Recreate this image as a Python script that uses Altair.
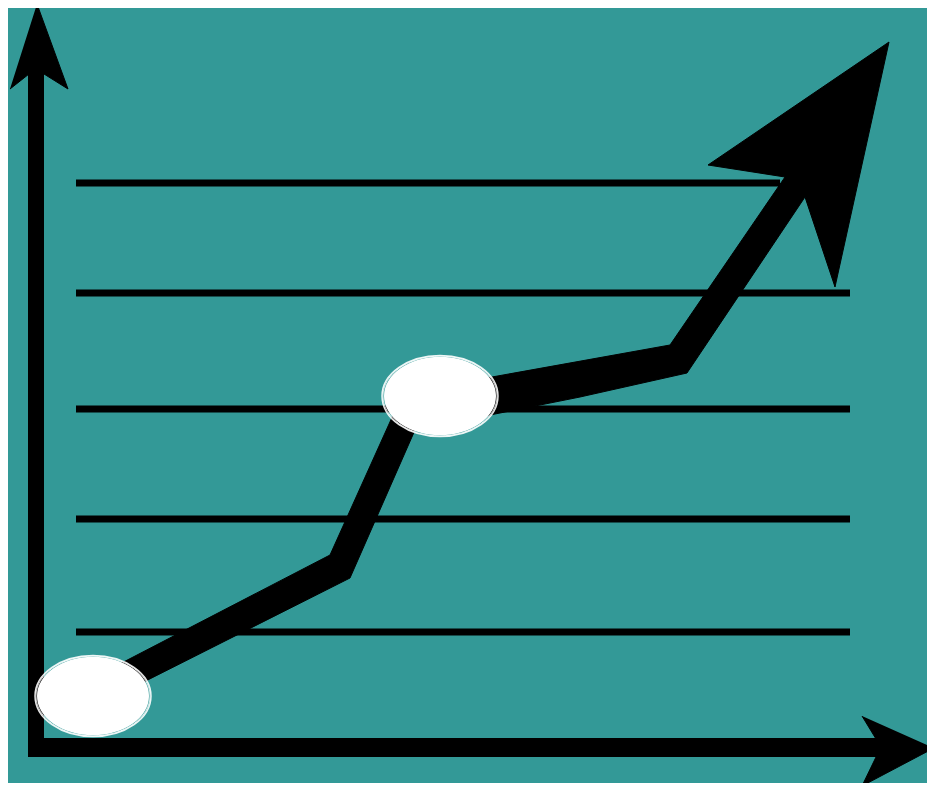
import altair as alt
import pandas as pd

BG = "#339997"

# Horizontal guide lines (y in picture units) and their horizontal extent
grid_y = [183, 293, 409, 519, 632]
grid_x0 = [76, 76, 76, 76, 76]
grid_x1 = [780, 850, 850, 850, 850]

# Axis shafts
yaxis_x = [36]
yaxis_y0 = [74]
yaxis_y1 = [757]
xaxis_y = [747.5]
xaxis_x0 = [28]
xaxis_x1 = [876]

# Axis arrowheads (polygons)
axhead_id = ["yhead"] * 5 + ["xhead"] * 5
axhead_x = [37, 68, 44, 29, 10,
            934, 862, 876, 876, 862]
axhead_y = [4, 89, 74, 74, 89,
            748, 786, 757, 739, 716]

# Trend arrow outline (band + head), traced around its edge
trend_x = [110, 330, 403, 670, 785, 708, 889, 835, 805, 687, 580, 540, 415, 350, 110]
trend_y = [669, 555, 393, 345, 177, 165, 42, 287, 197, 373, 397, 405, 430, 578, 699]

# Highlighted points (ellipses)
dot_x = [93, 440]
dot_y = [696, 396]

W, H = 919, 775
xs = alt.Scale(domain=[8, 927], nice=False, zero=False)
ys = alt.Scale(domain=[783, 8], nice=False, zero=False)

grid_df = pd.DataFrame({"y": grid_y, "x": grid_x0, "x2": grid_x1})
trend_df = pd.DataFrame({"x": trend_x, "y": trend_y, "i": range(len(trend_x))})
head_df = pd.DataFrame({"id": axhead_id, "x": axhead_x, "y": axhead_y,
                        "i": list(range(5)) * 2})
dot_df = pd.DataFrame({"x": dot_x, "y": dot_y})
yaxis_df = pd.DataFrame({"x": yaxis_x, "y": yaxis_y0, "y2": yaxis_y1})
xaxis_df = pd.DataFrame({"y": xaxis_y, "x": xaxis_x0, "x2": xaxis_x1})

X = lambda f: alt.X(f, scale=xs, axis=None)
Y = lambda f: alt.Y(f, scale=ys, axis=None)

grid = alt.Chart(grid_df).mark_rule(color="black", strokeWidth=7, strokeCap="butt").encode(
    x=X("x:Q"), x2="x2:Q", y=Y("y:Q"),
)

yaxis = alt.Chart(yaxis_df).mark_rule(color="black", strokeWidth=16, strokeCap="butt").encode(
    x=X("x:Q"), y=Y("y:Q"), y2="y2:Q",
)
xaxis = alt.Chart(xaxis_df).mark_rule(color="black", strokeWidth=19, strokeCap="butt").encode(
    x=X("x:Q"), x2="x2:Q", y=Y("y:Q"),
)

axheads = alt.Chart(head_df).mark_line(fill="black", stroke="black", strokeWidth=1,
                                       strokeJoin="miter").encode(
    x=X("x:Q"), y=Y("y:Q"), detail="id:N", order="i:Q",
)

trend = alt.Chart(trend_df).mark_line(fill="black", stroke="black", strokeWidth=1,
                                      strokeJoin="miter").encode(
    x=X("x:Q"), y=Y("y:Q"), order="i:Q",
)

ELLIPSE = "M -1 0 A 1 0.7 0 1 1 1 0 A 1 0.7 0 1 1 -1 0 Z"

dots = alt.Chart(dot_df).mark_point(shape=ELLIPSE, filled=True, fill="white", opacity=1,
                                    size=112 * 112, strokeWidth=0).encode(
    x=X("x:Q"), y=Y("y:Q"),
)
sketch1 = alt.Chart(dot_df).mark_point(shape=ELLIPSE, filled=False, stroke="white", opacity=0.9,
                                       size=116 * 116, strokeWidth=1.5, dx=3, dy=-2).encode(
    x=X("x:Q"), y=Y("y:Q"),
)
sketch2 = alt.Chart(dot_df).mark_point(shape=ELLIPSE, filled=False, stroke="white", opacity=0.8,
                                       size=114 * 114, strokeWidth=1, dx=5, dy=1).encode(
    x=X("x:Q"), y=Y("y:Q"),
)

chart = alt.layer(grid, yaxis, xaxis, axheads, trend, sketch1, sketch2, dots).properties(
    width=W, height=H, padding=0, autosize=alt.AutoSizeParams(type="none"),
    background=BG,
).configure_view(stroke=None, fill=BG)

chart.save("out.html", embed_options={"renderer": "svg", "actions": False})
